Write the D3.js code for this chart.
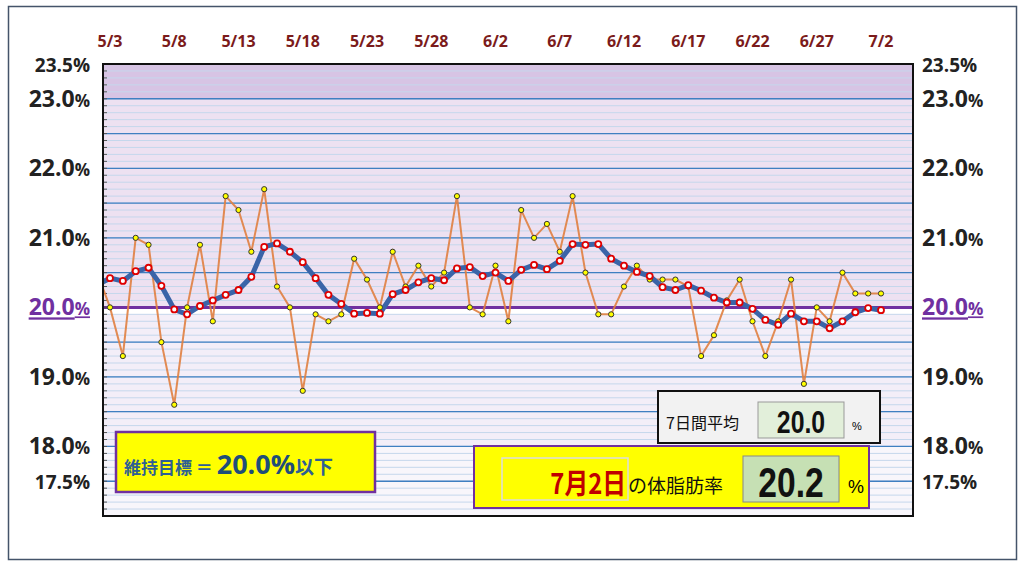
<!DOCTYPE html><html><head><meta charset="utf-8"><script src="https://cdn.jsdelivr.net/npm/d3@7"></script>
<style>body{margin:0;background:#fff}svg{display:block}</style></head><body><svg id="c" width="1024" height="568"></svg>
<script>
const dates=["5/2","5/3","5/4","5/5","5/6","5/7","5/8","5/9","5/10","5/11","5/12","5/13","5/14","5/15","5/16","5/17","5/18","5/19","5/20","5/21","5/22","5/23","5/24","5/25","5/26","5/27","5/28","5/29","5/30","5/31","6/1","6/2","6/3","6/4","6/5","6/6","6/7","6/8","6/9","6/10","6/11","6/12","6/13","6/14","6/15","6/16","6/17","6/18","6/19","6/20","6/21","6/22","6/23","6/24","6/25","6/26","6/27","6/28","6/29","6/30","7/1","7/2"];
const daily=[20.5,20.0,19.3,21.0,20.9,19.5,18.6,20.0,20.9,19.8,21.6,21.4,20.8,21.7,20.3,20.0,18.8,19.9,19.8,19.9,20.7,20.4,20.0,20.8,20.3,20.6,20.3,20.5,21.6,20.0,19.9,20.6,19.8,21.4,21.0,21.2,20.8,21.6,20.5,19.9,19.9,20.3,20.6,20.4,20.4,20.4,20.3,19.3,19.6,20.1,20.4,19.8,19.3,19.8,20.4,18.9,20.0,19.8,20.5,20.2,20.2,20.2];
const avg7=[20.32,20.42,20.38,20.52,20.57,20.31,19.97,19.90,20.02,20.10,20.18,20.25,20.44,20.87,20.92,20.80,20.65,20.42,20.18,20.05,19.91,19.92,19.91,20.19,20.25,20.36,20.42,20.39,20.56,20.58,20.45,20.50,20.38,20.54,20.61,20.55,20.67,20.91,20.90,20.91,20.70,20.60,20.51,20.45,20.29,20.25,20.32,20.24,20.14,20.07,20.07,19.98,19.82,19.75,19.91,19.80,19.80,19.70,19.80,19.93,19.99,19.96];
const xLabels=["5/3","5/8","5/13","5/18","5/23","5/28","6/2","6/7","6/12","6/17","6/22","6/27","7/2"];
const yLabels=[23.5,23.0,22.0,21.0,20.0,19.0,18.0,17.5];
const target=20.0, lastDate="7月2日", lastVal="20.2", avgVal="20.0";

const svg=d3.select("#c");
const L=103,R=913,T=64,B=516;
const x=d3.scaleLinear().domain([1,61]).range([110,881]);
const y=d3.scaleLinear().domain([17,23.5]).range([B,T]);
svg.append("rect").attr("x",8.5).attr("y",6.5).attr("width",1008).attr("height",553).attr("fill","#fff").attr("stroke","#44546a").attr("stroke-width",1.5);
const bands=[[23,23.5,"#d7c4e4"],[20,23,"#ede1f1"],[19.9,20,"#ffffff"],[18,19.9,"#f3eef8"],[17,18,"#f8f6fb"]];
svg.selectAll(".bd").data(bands).enter().append("rect").attr("x",L).attr("width",R-L).attr("y",d=>y(d[1])).attr("height",d=>y(d[0])-y(d[1])).attr("fill",d=>d[2]);
const minor=d3.range(171,235).map(v=>v/10);
svg.selectAll(".mn").data(minor).enter().append("line").attr("x1",L).attr("x2",R).attr("y1",d=>y(d)).attr("y2",d=>y(d)).attr("stroke","#c5d7ec").attr("stroke-width",1);
const major=d3.range(35,47).map(v=>v/2);
svg.selectAll(".mj").data(major).enter().append("line").attr("x1",L).attr("x2",R).attr("y1",d=>y(d)).attr("y2",d=>y(d)).attr("stroke","#3f7fc1").attr("stroke-width",1.3);
svg.append("line").attr("x1",L).attr("x2",R).attr("y1",y(target)).attr("y2",y(target)).attr("stroke","#7030a0").attr("stroke-width",3);
svg.selectAll(".tk").data(minor).enter().append("line").attr("x1",L).attr("x2",L+4).attr("y1",d=>y(d)).attr("y2",d=>y(d)).attr("stroke","#555");
svg.append("clipPath").attr("id","cp").append("rect").attr("x",L).attr("y",T).attr("width",R-L).attr("height",B-T);
const g=svg.append("g").attr("clip-path","url(#cp)");
const ln=d3.line().x((d,i)=>x(i)).y(d=>y(d));
g.append("path").attr("d",ln(daily)).attr("fill","none").attr("stroke","#e07f40").attr("stroke-width",2).attr("opacity",0.9);
g.append("path").attr("d",ln(avg7)).attr("fill","none").attr("stroke","#3a64a8").attr("stroke-width",5);
g.selectAll(".dp").data(daily).enter().append("circle").attr("cx",(d,i)=>x(i)).attr("cy",d=>y(d)).attr("r",2.6).attr("fill","#ffff00").attr("stroke","#333").attr("stroke-width",1);
g.selectAll(".ap").data(avg7).enter().append("circle").attr("cx",(d,i)=>x(i)).attr("cy",d=>y(d)).attr("r",3).attr("fill","#fff").attr("stroke","#e00000").attr("stroke-width",1.8);
svg.append("rect").attr("x",L).attr("y",T).attr("width",R-L).attr("height",B-T).attr("fill","none").attr("stroke","#111").attr("stroke-width",2);
svg.selectAll(".xl").data(xLabels).enter().append("text").attr("x",d=>x(dates.indexOf(d))).attr("y",47).attr("text-anchor","middle").attr("font-family","Open Sans, sans-serif").attr("font-weight","bold").attr("font-size",16).attr("fill","#7b1b1b").text(d=>d);
function ylab(side){
  const gg=svg.selectAll(".y"+side).data(yLabels).enter().append("text")
   .attr("x",side=="l"?90:922).attr("text-anchor",side=="l"?"end":"start")
   .attr("y",d=>y(d)+8).attr("font-family","Open Sans, sans-serif").attr("font-weight","bold")
   .attr("fill",d=>d==target?"#7030a0":"#222")
   .attr("text-decoration",d=>d==target?"underline":null);
  gg.append("tspan").attr("font-size",d=>(d==23.5||d==17.5)?19:23).text(d=>d.toFixed(1));
  gg.append("tspan").attr("font-size",d=>(d==23.5||d==17.5)?19:17).text("%");
}
ylab("l");ylab("r");
svg.append("rect").attr("x",116).attr("y",432).attr("width",259).attr("height",60).attr("fill","#ffff00").attr("stroke","#7030a0").attr("stroke-width",2.5);
const tt=svg.append("text").attr("x",124).attr("y",474).attr("font-family","Noto Sans CJK JP, sans-serif").attr("font-weight","bold").attr("fill","#2e5f94");
tt.append("tspan").attr("font-size",17).text("維持目標 ＝ ");
tt.append("tspan").attr("font-size",27).attr("font-family","Open Sans, sans-serif").attr("fill","#1f4e79").text(target.toFixed(1)+"%");
tt.append("tspan").attr("font-size",19).text("以下");
svg.append("rect").attr("x",658).attr("y",391).attr("width",222).attr("height",52).attr("fill","#f2f2f2").attr("stroke","#111").attr("stroke-width",2);
svg.append("text").attr("x",666).attr("y",429).attr("font-family","Noto Sans CJK JP, sans-serif").attr("font-size",16).attr("fill","#111").text("7日間平均");
svg.append("rect").attr("x",758).attr("y",402).attr("width",86).attr("height",36).attr("fill","#e2efda").attr("stroke","#999");
svg.append("text").attr("transform","translate(801,433) scale(0.8,1)").attr("text-anchor","middle").attr("font-family","Liberation Sans, sans-serif").attr("font-size",31).attr("font-weight","bold").attr("fill","#111").text(avgVal);
svg.append("text").attr("x",857).attr("y",430).attr("font-family","sans-serif").attr("font-size",11).attr("text-anchor","middle").text("%");
svg.append("rect").attr("x",474).attr("y",446).attr("width",395).attr("height",62).attr("fill","#ffff00").attr("stroke","#7030a0").attr("stroke-width",2);
svg.append("rect").attr("x",502).attr("y",458).attr("width",126).attr("height",42).attr("fill","#ffff00").attr("stroke","#ddd").attr("stroke-width",1.5);
svg.append("text").attr("transform","translate(626,494) scale(0.85,1)").attr("text-anchor","end").attr("font-family","Noto Sans CJK JP, sans-serif").attr("font-weight","bold").attr("font-size",28).attr("fill","#c00000").text(lastDate);
svg.append("text").attr("x",628).attr("y",493).attr("font-family","Noto Sans CJK JP, sans-serif").attr("font-size",19).attr("fill","#111").text("の体脂肪率");
svg.append("rect").attr("x",743).attr("y",456).attr("width",96).attr("height",46).attr("fill","#c6e0b4").attr("stroke","#888");
svg.append("text").attr("transform","translate(791,497) scale(0.8,1)").attr("text-anchor","middle").attr("font-family","Liberation Sans, sans-serif").attr("font-size",42).attr("font-weight","bold").attr("fill","#111").text(lastVal);
svg.append("text").attr("x",856).attr("y",493).attr("text-anchor","middle").attr("font-family","sans-serif").attr("font-size",18).text("%");
</script></body></html>
